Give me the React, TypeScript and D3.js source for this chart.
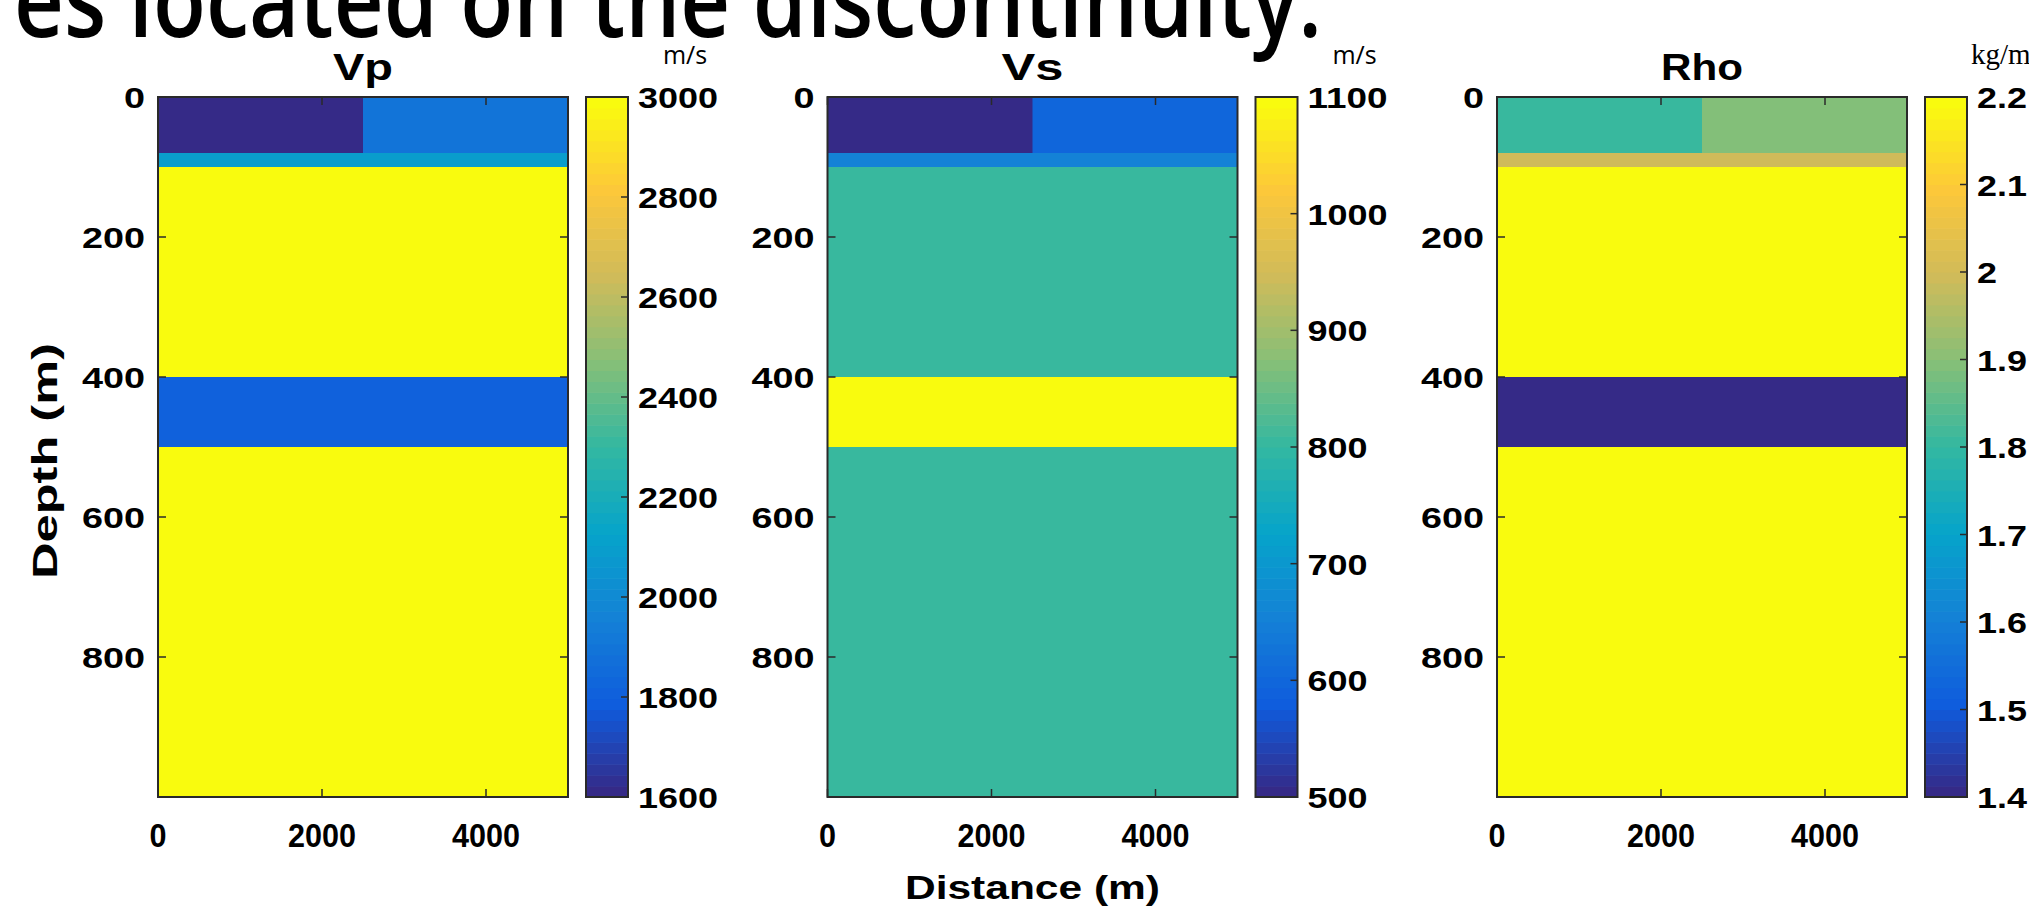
import React from "react";
import * as d3 from "d3";

const W = 2029;
const H = 908;

// ---- data ----
const depthBreaks = [0, 80, 100, 400, 500, 1000]; // layer boundaries (m)
const distanceBreaks = [0, 2500, 5000]; // lateral split (m)
const vpLeft = [1600, 2100, 3000, 1800, 3000];
const vpRight = [1900, 2100, 3000, 1800, 3000];
const vsLeft = [500, 650, 800, 1100, 800];
const vsRight = [600, 650, 800, 1100, 800];
const rhoLeft = [1.8, 2.0, 2.2, 1.4, 2.2];
const rhoRight = [1.9, 2.0, 2.2, 1.4, 2.2];

const titles = ["Vp", "Vs", "Rho"];
const units = ["m/s", "m/s", "kg/m³"];
const vpTicks = [1600, 1800, 2000, 2200, 2400, 2600, 2800, 3000];
const vsTicks = [500, 600, 700, 800, 900, 1000, 1100];
const rhoTicks = [1.4, 1.5, 1.6, 1.7, 1.8, 1.9, 2.0, 2.1, 2.2];
const depthTicks = [0, 200, 400, 600, 800];
const distanceTicks = [0, 2000, 4000];

// parula colormap key colours
const parulaStops = ["#352a87", "#0f5cdd", "#1481d6", "#06a4ca", "#33b8a1", "#87bf77", "#d1bb59", "#fdc839", "#f9fb0e"];
const parulaScale = d3
  .scaleLinear<string>()
  .domain(parulaStops.map((_, i) => i / (parulaStops.length - 1)))
  .range(parulaStops)
  .interpolate(d3.interpolateRgb);
const NC = 64;
const parula64 = d3.range(NC).map((i) => parulaScale(i / (NC - 1)));

// ---- layout ----
const panelX = [158, 827.5, 1497];
const panelW = 410;
const top = 97;
const bottom = 797;
const cbGap = 18;
const cbW = 42;
const tickLen = 8;
const axisColor = "#2a2a2a";
const font = "'Liberation Sans', Arial, sans-serif";

function colorIndex(v: number, lo: number, hi: number) {
  let idx = Math.floor(((v - lo) / (hi - lo)) * NC);
  if (idx < 0) idx = 0;
  if (idx > NC - 1) idx = NC - 1;
  return parula64[idx];
}

function fmt(v: number) {
  return Number.isInteger(v) ? String(v) : String(+v.toFixed(1));
}

function widthOf(s: string, digit: number) {
  let w = 0;
  for (const c of s) w += c === "." ? digit * 0.5 : digit;
  return w;
}

const panels = [
  { left: vpLeft, right: vpRight, domain: [1600, 3000], ticks: vpTicks },
  { left: vsLeft, right: vsRight, domain: [500, 1100], ticks: vsTicks },
  { left: rhoLeft, right: rhoRight, domain: [1.4, 2.2], ticks: rhoTicks },
];
const titleWidths = [60, 62, 82];

function Panel({ i }: { i: number }) {
  const p = panels[i];
  const x0 = panelX[i];
  const x = d3.scaleLinear().domain([0, 5000]).range([x0, x0 + panelW]);
  const y = d3.scaleLinear().domain([0, 1000]).range([top, bottom]);
  const [lo, hi] = p.domain;
  const cbX = x0 + panelW + cbGap;
  const cb = d3.scaleLinear().domain([lo, hi]).range([bottom, top]);
  const cells: { x0: number; x1: number; z0: number; z1: number; v: number }[] = [];
  for (let k = 0; k < depthBreaks.length - 1; k++) {
    cells.push({ x0: distanceBreaks[0], x1: distanceBreaks[1], z0: depthBreaks[k], z1: depthBreaks[k + 1], v: p.left[k] });
    cells.push({ x0: distanceBreaks[1], x1: distanceBreaks[2], z0: depthBreaks[k], z1: depthBreaks[k + 1], v: p.right[k] });
  }
  const step = (hi - lo) / NC;
  return (
    <g>
      {cells.map((c, k) => (
        <rect
          key={k}
          x={x(c.x0)}
          y={y(c.z0)}
          width={x(c.x1) - x(c.x0) + 0.5}
          height={y(c.z1) - y(c.z0) + 0.5}
          fill={colorIndex(c.v, lo, hi)}
        />
      ))}
      <rect x={x0} y={top} width={panelW} height={bottom - top} fill="none" stroke={axisColor} strokeWidth={2} />
      {depthTicks.map((t) => (
        <g key={"yt" + t}>
          <line x1={x0} x2={x0 + tickLen} y1={y(t)} y2={y(t)} stroke={axisColor} strokeWidth={1.5} />
          <line x1={x0 + panelW} x2={x0 + panelW - tickLen} y1={y(t)} y2={y(t)} stroke={axisColor} strokeWidth={1.5} />
          <text
            x={x0 - 13}
            y={y(t) + 11}
            textAnchor="end"
            fontFamily={font}
            fontWeight="bold"
            fontSize={30}
            textLength={String(t).length * 21}
            lengthAdjust="spacingAndGlyphs"
          >
            {t}
          </text>
        </g>
      ))}
      {distanceTicks.map((t) => (
        <g key={"xt" + t}>
          <line x1={x(t)} x2={x(t)} y1={bottom} y2={bottom - tickLen} stroke={axisColor} strokeWidth={1.5} />
          <line x1={x(t)} x2={x(t)} y1={top} y2={top + tickLen} stroke={axisColor} strokeWidth={1.5} />
          <text
            x={x(t)}
            y={847}
            textAnchor="middle"
            fontFamily={font}
            fontWeight="bold"
            fontSize={33}
            textLength={String(t).length * 17}
            lengthAdjust="spacingAndGlyphs"
          >
            {t}
          </text>
        </g>
      ))}
      <text
        x={x0 + panelW / 2}
        y={80}
        textAnchor="middle"
        fontFamily={font}
        fontWeight="bold"
        fontSize={36}
        textLength={titleWidths[i]}
        lengthAdjust="spacingAndGlyphs"
      >
        {titles[i]}
      </text>
      {/* colorbar */}
      {parula64.map((c, k) => (
        <rect
          key={"cb" + k}
          x={cbX}
          y={cb(lo + (k + 1) * step)}
          width={cbW}
          height={cb(lo + k * step) - cb(lo + (k + 1) * step) + 0.6}
          fill={c}
        />
      ))}
      <rect x={cbX} y={top} width={cbW} height={bottom - top} fill="none" stroke={axisColor} strokeWidth={2} />
      {p.ticks.map((t) => (
        <g key={"ct" + t}>
          <line x1={cbX + cbW} x2={cbX + cbW - 7} y1={cb(t)} y2={cb(t)} stroke={axisColor} strokeWidth={1.5} />
          <text
            x={cbX + cbW + 10}
            y={cb(t) + 11}
            textAnchor="start"
            fontFamily={font}
            fontWeight="bold"
            fontSize={30}
            textLength={widthOf(fmt(t), 20)}
            lengthAdjust="spacingAndGlyphs"
          >
            {fmt(t)}
          </text>
        </g>
      ))}
      <text
        x={i === 2 ? cbX + cbW + 4 : cbX + cbW / 2 + 78}
        y={64}
        textAnchor={i === 2 ? "start" : "middle"}
        fontFamily={i === 2 ? "'Liberation Serif', serif" : "'Open Sans', sans-serif"}
        fontSize={i === 2 ? 29 : 25}
      >
        {units[i]}
      </text>
    </g>
  );
}

export default function App() {
  return (
    <svg
      width={W}
      height={H}
      viewBox={`0 0 ${W} ${H}`}
      style={{ position: "absolute", left: 0, top: 0, background: "#fff", overflow: "hidden" }}
    >
      <rect x={0} y={0} width={W} height={H} fill="#fff" />
      <text
        x={14}
        y={37}
        fontFamily="'Open Sans', 'Noto Sans', sans-serif"
        fontWeight={600}
        fontSize={104}
        textLength={1308}
        lengthAdjust="spacingAndGlyphs"
        fill="#000"
      >
        es located on the discontinuity.
      </text>
      {[0, 1, 2].map((i) => (
        <Panel key={i} i={i} />
      ))}
      <text
        transform={`translate(57, 461) rotate(-90)`}
        textAnchor="middle"
        fontFamily={font}
        fontWeight="bold"
        fontSize={35}
        textLength={236}
        lengthAdjust="spacingAndGlyphs"
      >
        Depth (m)
      </text>
      <text
        x={panelX[1] + panelW / 2}
        y={899}
        textAnchor="middle"
        fontFamily={font}
        fontWeight="bold"
        fontSize={34}
        textLength={255}
        lengthAdjust="spacingAndGlyphs"
      >
        Distance (m)
      </text>
    </svg>
  );
}
